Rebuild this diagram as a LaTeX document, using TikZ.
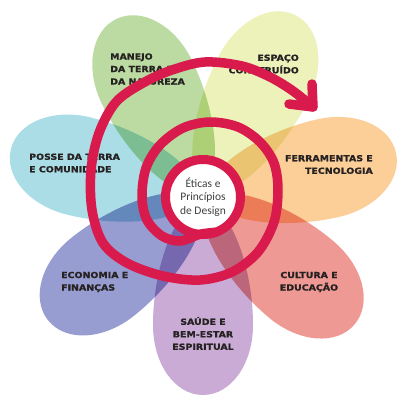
\documentclass[tikz,border=0pt]{standalone}
\usepackage{fontspec}
\newfontfamily\petalfont{DejaVu Sans}[FakeStretch=1.12,FakeBold=1.4]
\newfontfamily\hubfont{Carlito}
\usepackage{xcolor}
\definecolor{crimson}{RGB}{216,27,76}
\definecolor{ink}{RGB}{38,34,34}
\definecolor{graphite}{RGB}{64,64,64}
\definecolor{leaf}{RGB}{180,216,152}
\definecolor{lemon}{RGB}{236,241,180}
\definecolor{apricot}{RGB}{252,202,142}
\definecolor{salmon}{RGB}{238,142,137}
\definecolor{lilac}{RGB}{196,162,210}
\definecolor{iris}{RGB}{140,146,204}
\definecolor{sky}{RGB}{162,218,228}
\usepackage{tikz}

\begin{document}
\begin{tikzpicture}[
  x=1pt, y=-1pt,
  petaltext/.style={font=\petalfont\bfseries\fontsize{8.4}{12.5}\selectfont,
                    text=ink, inner sep=0pt},
  hub/.style={circle, fill=white, draw=crimson, line width=9pt,
              minimum size=75pt, inner sep=0pt, outer sep=0pt,
              align=center, text=graphite,
              font=\hubfont\fontsize{11.5}{13.5}\selectfont},
  spiral/.style={draw=crimson, line width=9.5pt,
                 line cap=round, line join=round},
]
  \fill[white] (0,0) rectangle (408,404);
  \useasboundingbox (0,0) rectangle (408,404);
  %% petals
  \begin{scope}[blend mode=multiply, fill opacity=0.9]
    \foreach \ang/\len/\col in {-90/198/lilac,-40/198/salmon,13/198/apricot,
                                63/204/lemon,116/198/leaf,166/198/sky,
                                218.5/198/iris}
      \fill[\col, shift={(203,197)}, rotate=\ang, xscale=\len/198]
        (4,0) .. controls (10,-28) and (70,-50) .. (128,-50)
        .. controls (167,-50) and (198,-28) .. (198,0)
        .. controls (198,28) and (167,50) .. (128,50)
        .. controls (70,50) and (10,28) .. (4,0) -- cycle;
  \end{scope}
  %% labels
  \node[petaltext, anchor=west, align=left] (manejo) at (110,69)
    {MANEJO\\DA TERRA E\\DA NATUREZA};
  \node[petaltext, anchor=east, align=right] (espaco) at (299,64)
    {ESPAÇO\\CONSTRUÍDO};
  \node[petaltext, anchor=west, align=left] (posse) at (29,163)
    {POSSE DA TERRA\\E COMUNIDADE};
  \node[petaltext, anchor=east, align=right] (ferramentas) at (373,164.5)
    {FERRAMENTAS E\\TECNOLOGIA};
  \node[petaltext, anchor=west, align=left] (economia) at (61,282)
    {ECONOMIA E\\FINANÇAS};
  \node[petaltext, align=center] (cultura) at (309,282)
    {CULTURA E\\EDUCAÇÃO};
  \node[petaltext, align=center] (saude) at (203,333.5)
    {SAÚDE E\\BEM-ESTAR\\ESPIRITUAL};
  %% centre and spiral
  \node[hub] (hub) at (203,197) {Éticas e\\Princípios\\de Design};
  \coordinate (tip) at (313,107);
  \draw[spiral] plot[smooth, tension=0.55] coordinates {
    (hub.-70) (hub.-95) (180,241) (162,236) (147,220) (142,197) (146,168)
    (160,145) (183,128) (210,122) (238,127) (260,142) (274,163) (278,190)
    (274,222) (258,252) (232,272) (200,280) (163,276) (127,263) (103,243)
    (92,210) (91,170) (99,133) (116,102) (143,83) (172,70) (205,62)
    (242,66) (270,77) (293,91) (tip)};
  %% arrow head
  \draw[spiral] (tip) ++(-24,-3) -- (tip) -- ++(-1,-23);
\end{tikzpicture}
\end{document}
